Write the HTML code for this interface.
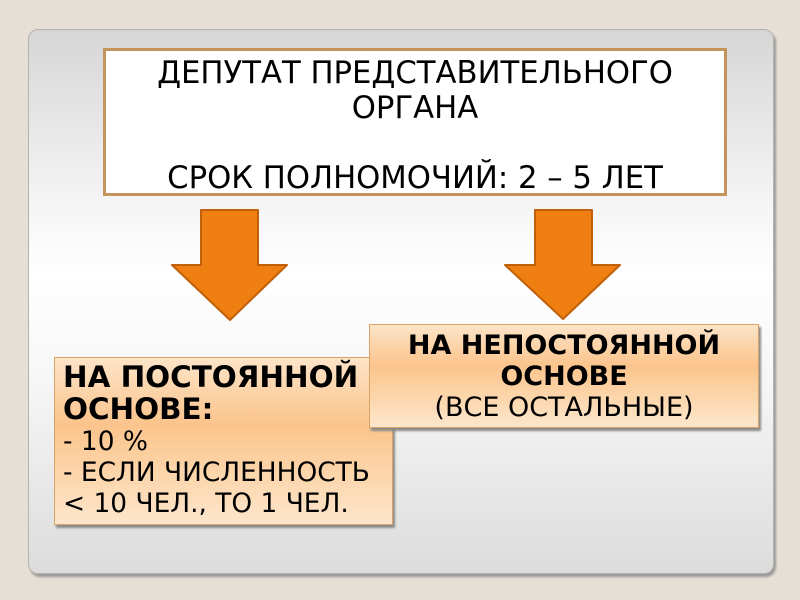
<!DOCTYPE html>
<html><head><meta charset="utf-8"><style>
body{margin:0;width:800px;height:600px;background:#e5dfd5;position:relative;overflow:hidden;font-family:"DejaVu Sans","Liberation Sans",sans-serif;}
.panel{position:absolute;left:28px;top:29px;width:744px;height:543px;border-radius:10px;border:1px solid #b8b2aa;
background:linear-gradient(#d6d6d6 0%,#f3f3f3 30%,#ffffff 45%,#f6f6f6 65%,#dcdcdc 100%);box-shadow:2px 3px 2px #9a9a9a;}
.top{position:absolute;left:103px;top:48px;width:618px;height:142px;background:#fff;border:3px solid #c4955a;text-align:center;font-size:30.7px;line-height:35px;color:#000;white-space:nowrap;}
.box{position:absolute;border:1px solid #d9a466;background:linear-gradient(#fde4c8 0%,#fbc48c 40%,#fcd0a0 60%,#fde6cc 100%);box-shadow:2px 3px 2px #8a8a8a;font-size:27px;line-height:31px;color:#000;white-space:nowrap;}
b{font-weight:bold;}
</style></head><body>
<div class="panel"></div>
<div class="top"><div style="margin-top:5px">ДЕПУТАТ ПРЕДСТАВИТЕЛЬНОГО<br>ОРГАНА<br><br>СРОК ПОЛНОМОЧИЙ: 2 – 5 ЛЕТ</div></div>
<svg style="position:absolute;left:0;top:0" width="800" height="600">
<polygon points="201,210 258,210 258,265 287,265 230,320 172,265 201,265" fill="#ef7f10" stroke="#c0600a" stroke-width="2" stroke-linejoin="round"/>
<polygon points="535,210 592,210 592,265 620,265 563,319 505,265 535,265" fill="#ef7f10" stroke="#c0600a" stroke-width="2" stroke-linejoin="round"/>
</svg>
<div class="box" style="left:54px;top:357px;width:339px;height:168px;padding-left:8px;box-sizing:border-box;padding-top:4px;font-size:26.4px"><b style="font-size:29.4px">НА ПОСТОЯННОЙ<br>ОСНОВЕ:</b><br>- 10 %<br>- ЕСЛИ ЧИСЛЕННОСТЬ<br>&lt; 10 ЧЕЛ., ТО 1 ЧЕЛ.</div>
<div class="box" style="left:369px;top:324px;width:390px;height:104px;box-sizing:border-box;text-align:center;padding-top:5px;line-height:31px"><b>НА НЕПОСТОЯННОЙ<br>ОСНОВЕ</b><br>(ВСЕ ОСТАЛЬНЫЕ)</div>
</body></html>
